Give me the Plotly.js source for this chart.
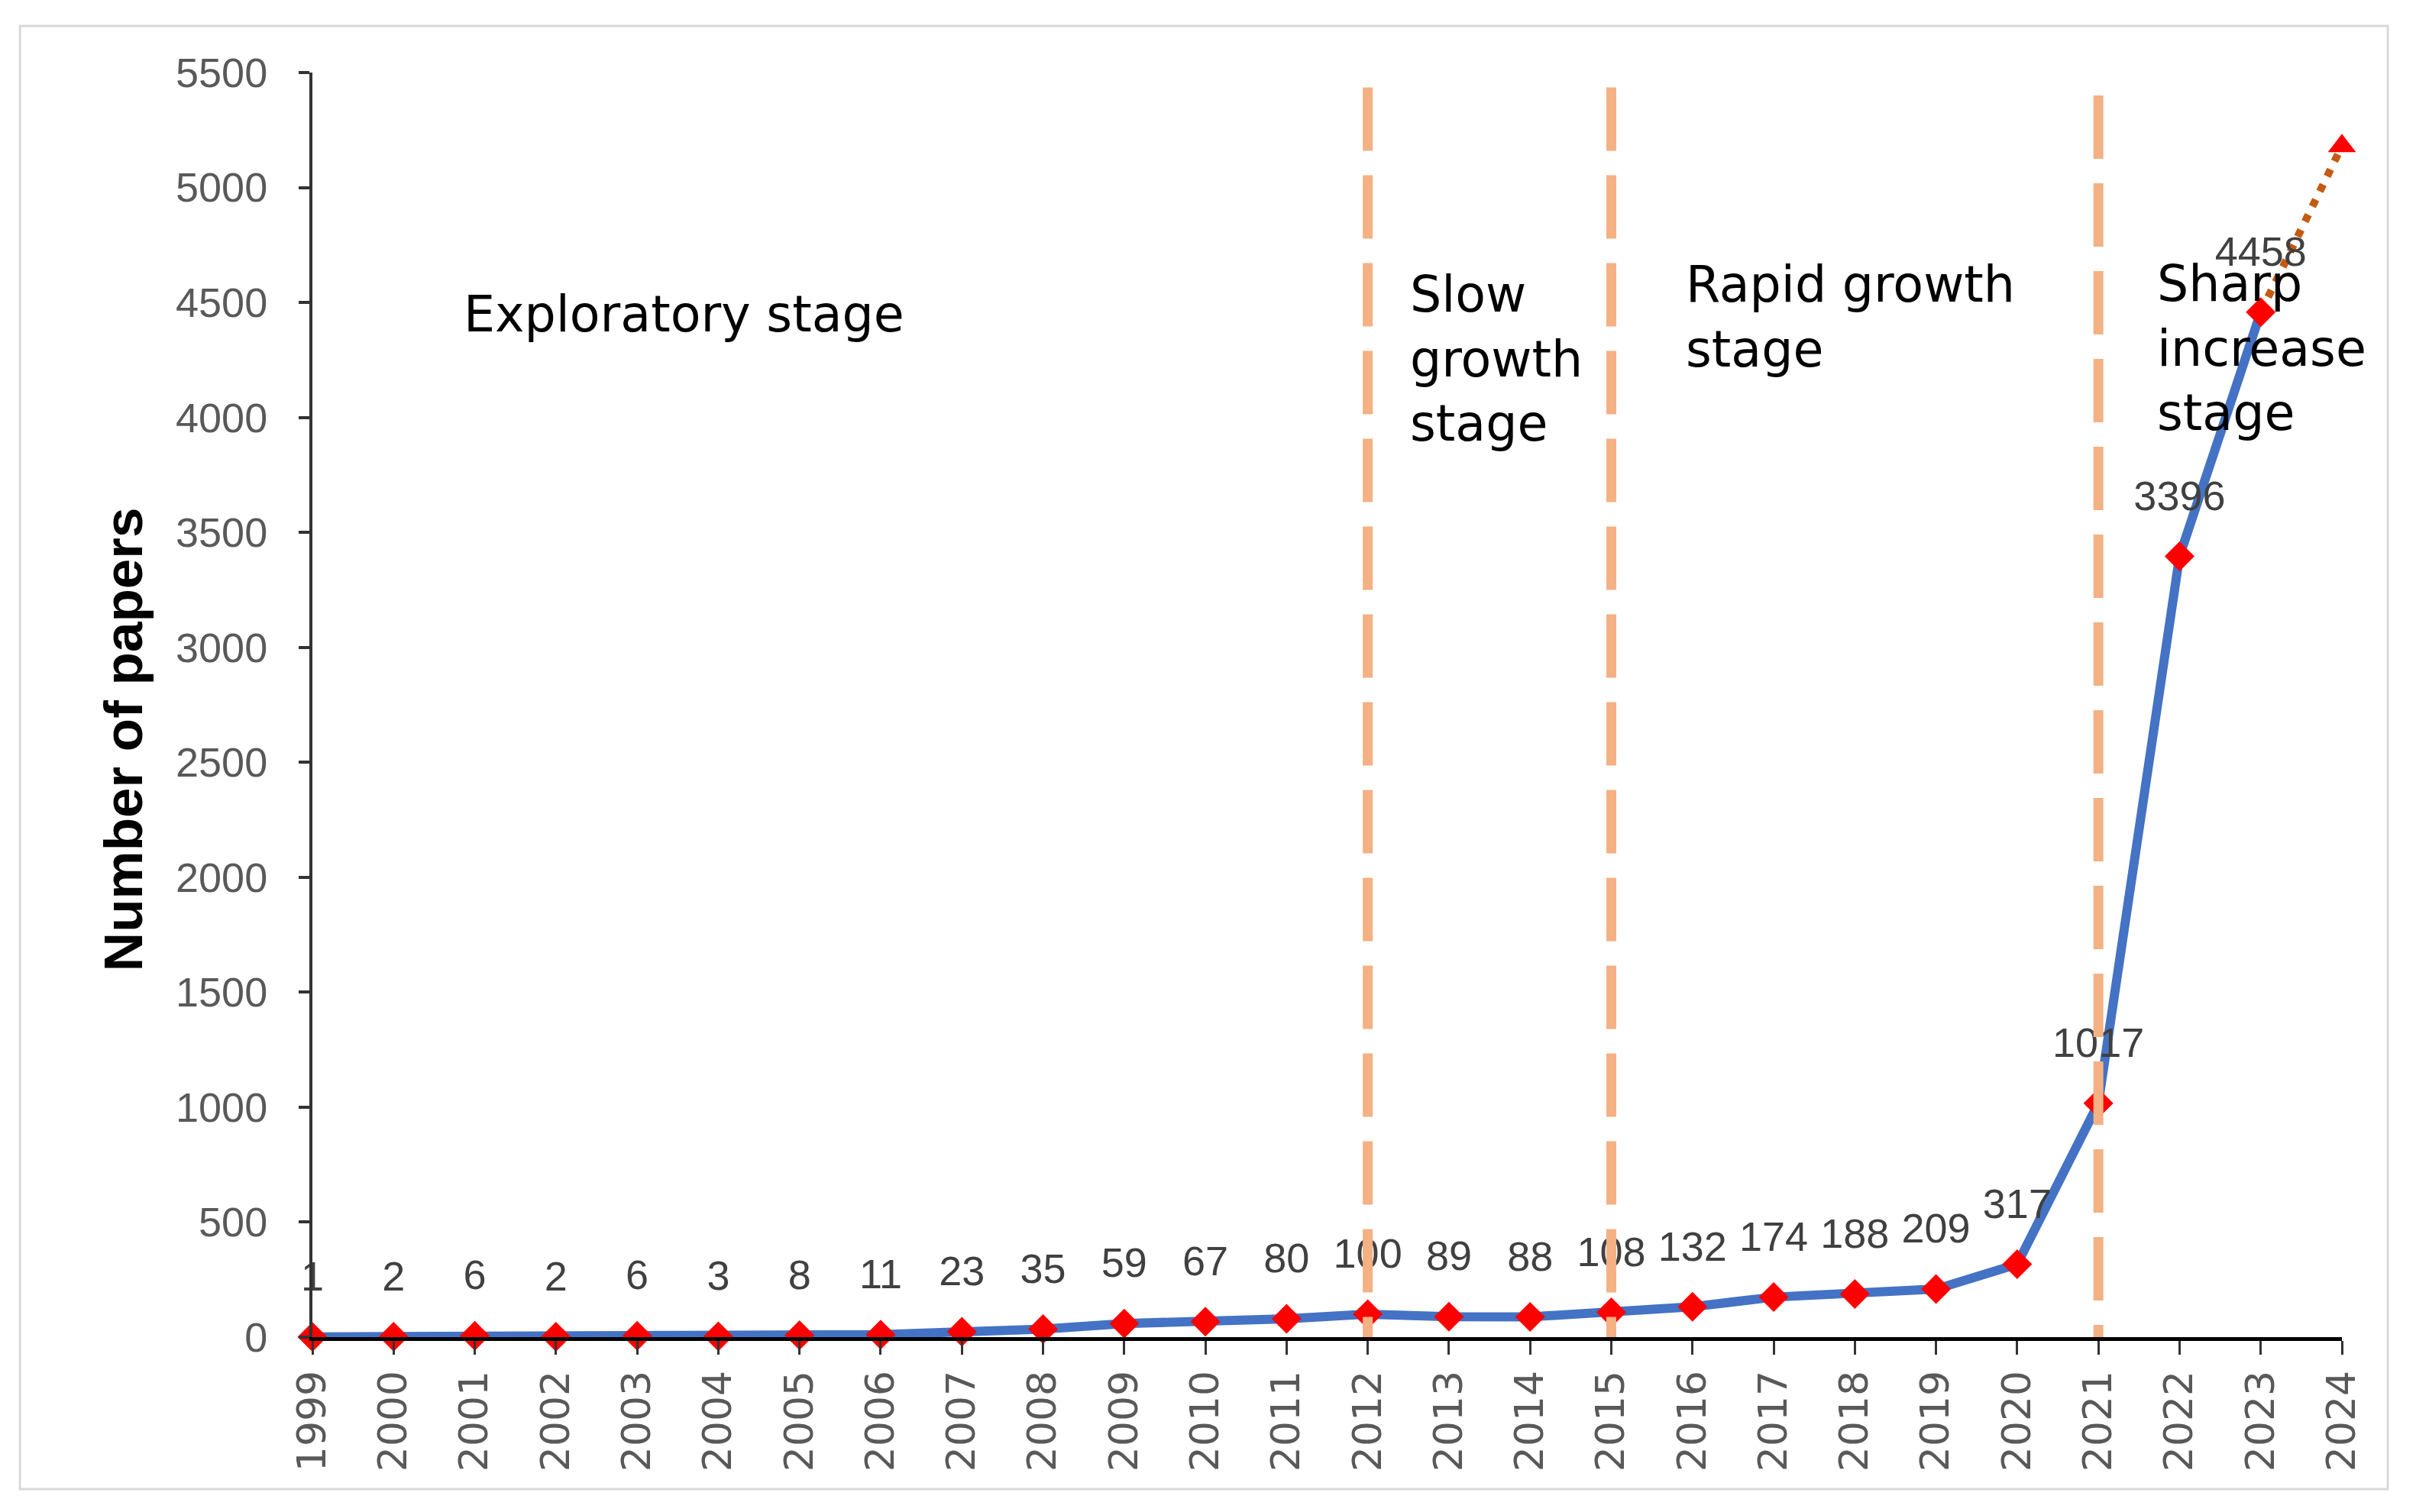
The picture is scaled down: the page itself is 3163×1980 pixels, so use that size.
<!DOCTYPE html>
<html><head><meta charset="utf-8">
<script src="https://cdn.plot.ly/plotly-3.0.1.min.js"></script>
<style>html,body{margin:0;padding:0;background:#fff}#chart{width:3163px;height:1980px}</style>
</head><body><div id="chart"></div>
<script>
// ---- data ----
const years = [1999,2000,2001,2002,2003,2004,2005,2006,2007,2008,2009,2010,2011,2012,2013,2014,2015,2016,2017,2018,2019,2020,2021,2022,2023];
const papers = [1,2,6,2,6,3,8,11,23,35,59,67,80,100,89,88,108,132,174,188,209,317,1017,3396,4458];
const forecastYears = [2023, 2024];
const forecastPapers = [4458, 5180];
const tickYears = [1999,2000,2001,2002,2003,2004,2005,2006,2007,2008,2009,2010,2011,2012,2013,2014,2015,2016,2017,2018,2019,2020,2021,2022,2023,2024];
const yTicks = [0,500,1000,1500,2000,2500,3000,3500,4000,4500,5000,5500];
const stageBoundaries = [2012, 2015, 2021];
const stageNames = ['Exploratory stage', 'Slow<br>growth<br>stage', 'Rapid growth<br>stage', 'Sharp<br>increase<br>stage'];
const yTitle = 'Number of papers';

// ---- styling / placement ----
const SANS = 'Liberation Sans, Arial, sans-serif';
const WIDE = 'DejaVu Sans, Verdana, sans-serif';
const boundaryTops = [5435, 5435, 5400];
const stageAnchors = [
  {x: 2000.84, y: 4450},
  {x: 2012.5, y: 4254},
  {x: 2015.9, y: 4437},
  {x: 2021.7, y: 4300}
];

const traces = [
  { // forecast dotted segment
    x: forecastYears, y: forecastPapers, mode: 'lines', type: 'scatter',
    line: {color: '#C55A11', width: 10, dash: '10px,12px'},
    hoverinfo: 'skip', cliponaxis: false
  },
  { // main series
    x: years, y: papers, mode: 'lines+markers', type: 'scatter',
    line: {color: '#4472C4', width: 12},
    marker: {symbol: 'diamond', color: '#FF0000', size: 30},
    cliponaxis: false
  },
  { // forecast point
    x: forecastYears.slice(1), y: forecastPapers.slice(1), mode: 'markers', type: 'scatter',
    marker: {symbol: 'triangle-up', color: '#FF0000', size: 32},
    cliponaxis: false
  },
  { // data labels
    x: years, y: papers, mode: 'markers+text', type: 'scatter',
    text: papers.map(String), textposition: 'top center',
    textfont: {family: SANS, size: 54, color: '#404040'},
    marker: {size: 74, opacity: 0, color: '#fff'},
    hoverinfo: 'skip', cliponaxis: false
  }
];

const shapes = stageBoundaries.map((b, i) => ({
  type: 'line', xref: 'x', yref: 'y', x0: b, x1: b, y0: boundaryTops[i], y1: 0,
  line: {color: '#F4B183', width: 13, dash: '83px,32px'}, layer: 'above'
}));
shapes.push({
  type: 'rect', xref: 'paper', yref: 'paper', x0: -0.1441, x1: 1.0226, y0: -0.1202, y1: 1.0368,
  line: {color: '#D9D9D9', width: 3}, fillcolor: 'rgba(0,0,0,0)', layer: 'below'
});

const annotations = stageNames.map((t, i) => ({
  text: t, x: stageAnchors[i].x, y: stageAnchors[i].y, xref: 'x', yref: 'y',
  xanchor: 'left', yanchor: 'middle', align: 'left', showarrow: false,
  font: {family: WIDE, size: 65, color: '#000'}
}));
annotations.push({
  text: '<b>' + yTitle + '</b>', xref: 'paper', yref: 'paper', x: -0.0933, y: 0.4728,
  xanchor: 'center', yanchor: 'middle', textangle: -90, showarrow: false,
  font: {family: SANS, size: 71, color: '#000'}
});

const layout = {
  width: 3163, height: 1980,
  margin: {l: 409, r: 97, t: 95, b: 229},
  paper_bgcolor: '#fff', plot_bgcolor: '#fff',
  showlegend: false,
  xaxis: {
    type: 'linear', range: [1999, 2024], tickmode: 'array', tickvals: tickYears,
    ticktext: tickYears.map(String), tickangle: -90,
    tickfont: {family: WIDE, size: 52, color: '#595959'},
    showline: true, linecolor: '#000', linewidth: 5,
    ticks: 'outside', ticklen: 18, tickwidth: 3, tickcolor: '#333',
    showgrid: false, zeroline: false, fixedrange: true
  },
  yaxis: {
    range: [0, 5500], tickmode: 'array', tickvals: yTicks,
    tickfont: {family: SANS, size: 54, color: '#595959'},
    showline: true, linecolor: '#333', linewidth: 4,
    ticks: 'outside', ticklen: 14, tickwidth: 4, tickcolor: '#333',
    ticklabelstandoff: 30,
    showgrid: false, zeroline: false, fixedrange: true
  },
  shapes: shapes,
  annotations: annotations
};

Plotly.newPlot('chart', traces, layout, {staticPlot: true, displayModeBar: false});
</script>
</body></html>
